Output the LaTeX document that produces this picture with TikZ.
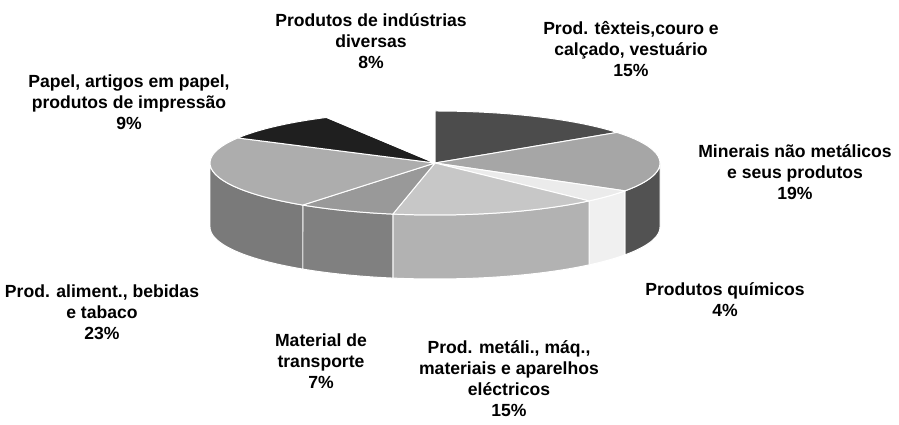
\documentclass[tikz,border=0pt]{standalone}
\usepackage{fontspec}
\setmainfont{Liberation Sans}
\usetikzlibrary{calc}

\begin{document}
\begin{tikzpicture}[x=0.025cm,y=0.025cm,
  pie label/.style={align=center,inner sep=0pt,font=\bfseries\fontsize{12.5}{15}\selectfont},
  slice edge/.style={draw=white,line width=0.7pt,line join=round}]
\useasboundingbox (0,0) rectangle (899,425);
\coordinate (C) at (435,262);

\foreach \a/\b/\col in {0/-32.4/black!68, -32.4/-46.8/black!6, -46.8/-100.8/black!30,
  -100.8/-126/black!50, -126/-180/black!52}
  \path[fill=\col,slice edge] plot[domain=\a:\b,samples=25] ({435+225*cos(\x)},{262+52*sin(\x)})
    -- plot[domain=\b:\a,samples=25] ({435+225*cos(\x)},{198+52*sin(\x)}) -- cycle;

\foreach \a/\b/\col in {90/36/black!70, 36/-32.4/black!35, -32.4/-46.8/black!8,
  -46.8/-100.8/black!22, -100.8/-126/black!40, -126/-208.8/black!32,
  -208.8/-241.2/black!88, -241.2/-270/white}
  \path[fill=\col,slice edge] (C) -- plot[domain=\a:\b,samples=25] ({435+225*cos(\x)},{262+52*sin(\x)}) -- cycle;

\node[pie label](ind) at (371,384) {Produtos de indústrias\\diversas\\8\%};
\node[pie label](tex) at (631,376) {Prod. têxteis,couro e\\calçado, vestuário\\15\%};
\node[pie label](pap) at (129,323) {Papel, artigos em papel,\\produtos de impressão\\9\%};
\node[pie label](min) at (795,253) {Minerais não metálicos\\e seus produtos\\19\%};
\node[pie label](qui) at (725,125) {Produtos químicos\\4\%};
\node[pie label](ali) at (102,113) {Prod. aliment., bebidas\\e tabaco\\23\%};
\node[pie label](tra) at (321,64) {Material de\\transporte\\7\%};
\node[pie label](met) at (509,46) {Prod. metáli., máq.,\\materiais e aparelhos\\eléctricos\\15\%};

\end{tikzpicture}
\end{document}
